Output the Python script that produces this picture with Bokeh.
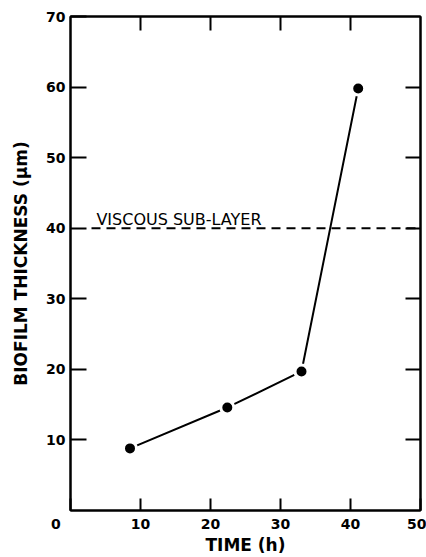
from bokeh.plotting import figure
from bokeh.models import LinearAxis, FixedTicker, ColumnDataSource
from bokeh.core.properties import value
from bokeh.embed import file_html
from bokeh.resources import INLINE

# data
time_h = [8.5, 22.4, 33.0, 41.1]
thickness_um = [8.8, 14.6, 19.7, 59.8]
sublayer_x = [3.0, 50.0]
sublayer_y = [40.0, 40.0]
sublayer_label = ["VISCOUS SUB-LAYER"]
x_ticks = [0, 10, 20, 30, 40, 50]
x_tick_labels = ["0\u2007\u2007\u2007", "10", "20", "30", "40", "50"]
y_ticks = [10, 20, 30, 40, 50, 60, 70]

FONT = "DejaVu Sans"

p = figure(width=426, height=557, output_backend="svg", toolbar_location=None,
           x_range=(0, 50), y_range=(0, 70), x_axis_location=None, y_axis_location=None,
           min_border_left=70, min_border_right=6, min_border_top=16, min_border_bottom=45)
p.grid.visible = False
p.outline_line_color = "black"
p.outline_line_width = 2
p.background_fill_color = "white"
p.border_fill_color = "white"

def style(ax, labels=True, tick_in=14):
    ax.axis_line_width = 2
    ax.major_tick_line_width = 2
    ax.major_tick_in = tick_in
    ax.major_tick_out = 0
    ax.minor_tick_line_color = None
    ax.major_label_text_font = FONT
    ax.major_label_text_font_style = "bold"
    ax.major_label_text_font_size = "14px"
    ax.major_label_text_color = "black"
    ax.axis_label_text_font = FONT
    ax.axis_label_text_font_style = "bold"
    ax.axis_label_text_font_size = "17px"
    ax.axis_label_text_color = "black"
    if not labels:
        ax.major_label_text_font_size = "0px"
        ax.major_label_text_color = None
        ax.major_label_standoff = 0

bottom = LinearAxis(ticker=FixedTicker(ticks=x_ticks), axis_label="TIME (h)",
                    major_label_overrides={t: s for t, s in zip(x_ticks, x_tick_labels)})
style(bottom, tick_in=12)
bottom.major_label_standoff = 5
bottom.axis_label_standoff = 0
p.add_layout(bottom, "below")

left = LinearAxis(ticker=FixedTicker(ticks=y_ticks), axis_label="BIOFILM THICKNESS (\u03bcm)")
style(left, tick_in=16)
left.major_label_standoff = 5
left.axis_label_standoff = 12
p.add_layout(left, "left")

top = LinearAxis(ticker=FixedTicker(ticks=x_ticks[1:-1]))
style(top, labels=False, tick_in=14)
p.add_layout(top, "above")

right = LinearAxis(ticker=FixedTicker(ticks=y_ticks[:-1]))
style(right, labels=False, tick_in=15)
p.add_layout(right, "right")

# viscous sub-layer
p.line(sublayer_x, sublayer_y, line_color="black", line_width=2, line_dash="9 6")
p.text(x=[sublayer_x[0] + 0.7], y=[sublayer_y[0]], text=sublayer_label, y_offset=-9,
       text_font=value(FONT), text_font_size="16px", text_baseline="alphabetic",
       text_align="left", text_color="black")

src = ColumnDataSource(dict(x=time_h, y=thickness_um))
p.line("x", "y", source=src, line_color="black", line_width=2)
p.scatter("x", "y", source=src, size=13, fill_color="black", line_color="white", line_width=3)

open("out.html", "w").write(file_html(p, INLINE))
